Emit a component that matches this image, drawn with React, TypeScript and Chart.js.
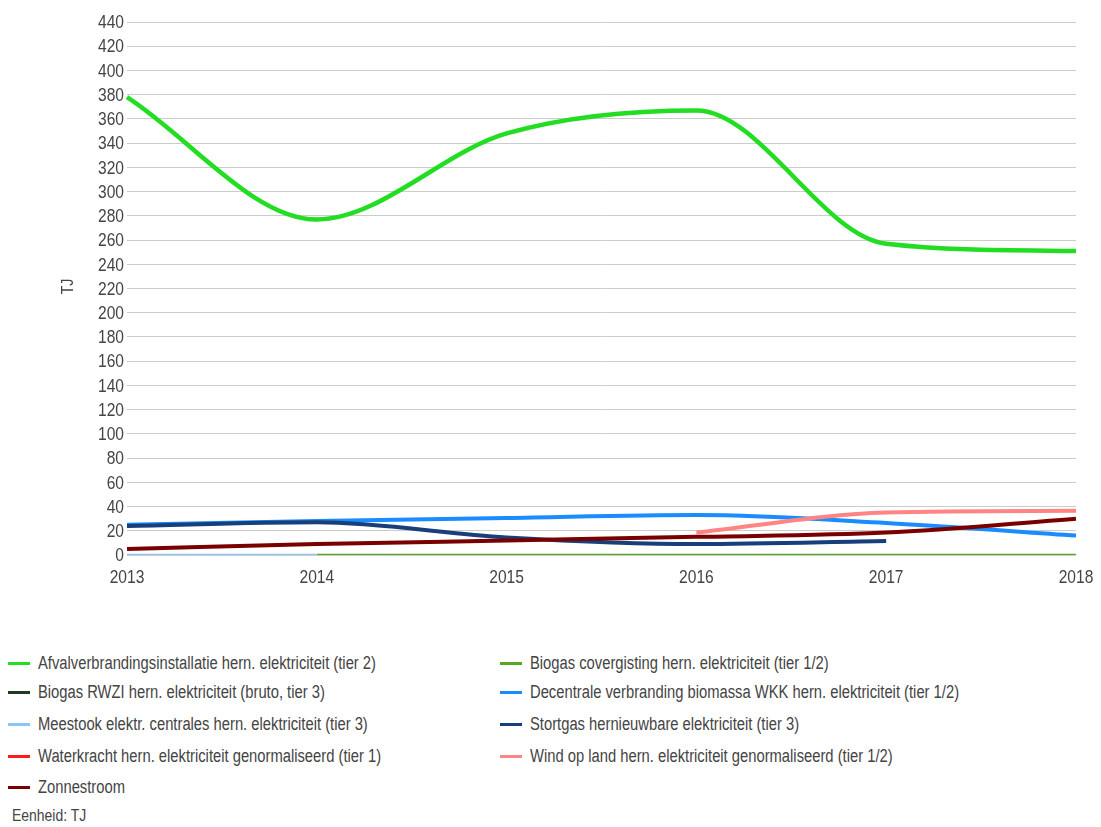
import React, { useEffect, useRef } from "react";
import { Chart, registerables } from "chart.js";

Chart.register(...registerables);

// Years on the x axis
const years = ["2013", "2014", "2015", "2016", "2017", "2018"];

// Renewable electricity per source (TJ)
const afvalverbranding = [378, 277, 348, 367, 257, 251];
const biogasCovergisting = [null, 0, 0, 0, 0, 0];
const biogasRwzi = [null, null, null, null, null, null];
const decentraleBiomassa = [25, 28, 30.5, 33, 26.5, 16];
const meestook = [0, 0, null, null, null, null];
const stortgas = [24, 27, 14.5, 9, 11.5, null];
const waterkracht = [null, null, null, null, null, null];
const windOpLand = [null, null, null, 18.5, 35, 36.5];
const zonnestroom = [5, 9, 12, 15, 18.5, 30];

// Y axis range
const yMin = 0;
const yMax = 440;
const yStep = 20;
const yTitle = "TJ";

const seriesNames = [
  "Afvalverbrandingsinstallatie hern. elektriciteit (tier 2)",
  "Biogas covergisting hern. elektriciteit (tier 1/2)",
  "Biogas RWZI hern. elektriciteit (bruto, tier 3)",
  "Decentrale verbranding biomassa WKK hern. elektriciteit (tier 1/2)",
  "Meestook elektr. centrales hern. elektriciteit (tier 3)",
  "Stortgas hernieuwbare elektriciteit (tier 3)",
  "Waterkracht hern. elektriciteit genormaliseerd (tier 1)",
  "Wind op land hern. elektriciteit genormaliseerd (tier 1/2)",
  "Zonnestroom",
];
const seriesValues = [
  afvalverbranding,
  biogasCovergisting,
  biogasRwzi,
  decentraleBiomassa,
  meestook,
  stortgas,
  waterkracht,
  windOpLand,
  zonnestroom,
];
const seriesColors = [
  "#22dd22",
  "#55aa22",
  "#1f3a1f",
  "#1a8cff",
  "#8cc4f5",
  "#163f7c",
  "#ff1a1a",
  "#ff8585",
  "#7a0000",
];
const seriesWidths = [4.5, 2.5, 3, 4, 2.5, 4, 3, 4, 4];

const FONT = "'Liberation Sans', Arial, sans-serif";
const TEXT = "#444";
const NARROW = 0.82; // horizontal squeeze giving a narrow sans look

// Draws axis labels in a condensed style (squeezed horizontally)
const narrowAxisLabels = {
  id: "narrowAxisLabels",
  afterDraw(chart: any) {
    const ctx = chart.ctx as CanvasRenderingContext2D;
    const xs = chart.scales.x;
    const ys = chart.scales.y;
    const draw = (text: string, x: number, y: number, align: CanvasTextAlign, size: number, rot = 0) => {
      ctx.save();
      ctx.translate(x, y);
      if (rot) ctx.rotate(rot);
      ctx.scale(NARROW, 1);
      ctx.font = `${size}px ${FONT}`;
      ctx.fillStyle = TEXT;
      ctx.textAlign = align;
      ctx.textBaseline = "middle";
      ctx.fillText(text, 0, 0);
      ctx.restore();
    };
    ys.ticks.forEach((t: any) => {
      draw(String(t.value), ys.right - 3, ys.getPixelForValue(t.value) + 1, "right", 19);
    });
    xs.ticks.forEach((t: any, i: number) => {
      draw(String(chart.data.labels[i]), xs.getPixelForTick(i), xs.top + 23, "center", 19);
    });
    draw(yTitle, 68, (chart.chartArea.top + chart.chartArea.bottom) / 2 - 2, "center", 17, -Math.PI / 2);
  },
};

export default function App() {
  const ref = useRef<HTMLCanvasElement | null>(null);

  useEffect(() => {
    if (!ref.current) return;
    const n = seriesNames.length;
    const chart = new Chart(ref.current, {
      type: "line",
      data: {
        labels: years,
        datasets: seriesNames.map((name, i) => ({
          label: name,
          data: seriesValues[i],
          borderColor: seriesColors[i],
          backgroundColor: seriesColors[i],
          borderWidth: seriesWidths[i],
          pointRadius: 0,
          fill: false,
          spanGaps: false,
          cubicInterpolationMode: "monotone" as const,
          order: n - i,
        })),
      },
      options: {
        animation: false,
        responsive: false,
        maintainAspectRatio: false,
        layout: { padding: { top: 22, right: 25, bottom: 0, left: 0 } },
        plugins: {
          legend: { display: false },
          tooltip: { enabled: false },
        },
        scales: {
          x: {
            offset: false,
            grid: { display: false, drawTicks: false },
            border: { display: false },
            ticks: { display: false, autoSkip: false, maxRotation: 0 },
            afterFit: (scale: any) => {
              scale.height = 45;
            },
          },
          y: {
            min: yMin,
            max: yMax,
            grid: { color: "#cccccc", drawTicks: false, lineWidth: 1 },
            border: { display: false },
            ticks: { display: false, stepSize: yStep, autoSkip: false },
            afterFit: (scale: any) => {
              scale.width = 127;
            },
          },
        },
      },
      plugins: [narrowAxisLabels],
    });
    return () => chart.destroy();
  }, []);

  const rowTops = [663, 692, 724, 756, 787];
  const cells = seriesNames.map((name, i) => {
    const col = i % 2;
    const row = Math.floor(i / 2);
    return (
      <div
        key={name}
        style={{
          position: "absolute",
          left: col === 0 ? 8 : 500,
          top: rowTops[row] - 12,
          height: 24,
          display: "flex",
          alignItems: "center",
          whiteSpace: "nowrap",
        }}
      >
        <div
          style={{
            width: 22,
            height: 3,
            background: seriesColors[i],
            marginRight: 8,
          }}
        />
        <span
          style={{
            fontFamily: FONT,
            fontSize: 18,
            color: TEXT,
            display: "inline-block",
            transform: `scaleX(${NARROW})`,
            transformOrigin: "left center",
          }}
        >
          {name}
        </span>
      </div>
    );
  });

  return (
    <div
      style={{
        position: "absolute",
        left: 0,
        top: 0,
        width: 1101,
        height: 827,
        background: "#fff",
        overflow: "hidden",
      }}
    >
      <canvas ref={ref} width={1101} height={600} style={{ position: "absolute", left: 0, top: 0 }} />
      {cells}
      <div
        style={{
          position: "absolute",
          left: 12,
          top: 816 - 12,
          height: 24,
          display: "flex",
          alignItems: "center",
          whiteSpace: "nowrap",
        }}
      >
        <span
          style={{
            fontFamily: FONT,
            fontSize: 17,
            color: TEXT,
            display: "inline-block",
            transform: `scaleX(${NARROW})`,
            transformOrigin: "left center",
          }}
        >
          Eenheid: TJ
        </span>
      </div>
    </div>
  );
}
